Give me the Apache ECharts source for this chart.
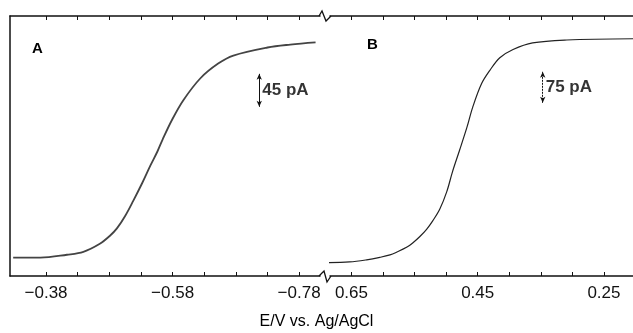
<!DOCTYPE html>
<html>
<head>
<meta charset="utf-8">
<script src="https://cdn.jsdelivr.net/npm/echarts@6/dist/echarts.min.js"></script>
<style>
  html, body { margin: 0; padding: 0; background: #fff; }
  #chart { width: 633px; height: 333px; }
</style>
</head>
<body>
<div id="chart"></div>
<script>
// panel A: reduction wave (E in V, current in pA)
const potentialA = [-0.328, -0.371, -0.413, -0.439, -0.465, -0.481, -0.492, -0.505, -0.518, -0.532, -0.545,
  -0.556, -0.564, -0.579, -0.597, -0.624, -0.652, -0.676, -0.730, -0.766, -0.806];
const currentA = [25, 25, 29, 33, 44, 55, 65, 82, 103, 127, 151, 170, 186, 213, 240, 270, 290, 301, 312, 316, 319];

// panel B: oxidation wave
const potentialB = [0.699, 0.653, 0.626, 0.605, 0.589, 0.578, 0.562, 0.553, 0.542, 0.531, 0.521, 0.510,
  0.499, 0.490, 0.479, 0.467, 0.458, 0.444, 0.431, 0.415, 0.394, 0.363, 0.309, 0.204];
const currentB = [32, 34, 39, 45, 51, 58, 70, 80, 95, 113, 134, 162, 204, 252, 303, 360, 408, 465, 497, 528,
  548, 564, 571, 574];

const ticksA = [-0.38, -0.43, -0.48, -0.53, -0.58, -0.63, -0.68, -0.73, -0.78];
const labelsA = [-0.38, -0.58, -0.78];
const ticksB = [0.65, 0.60, 0.55, 0.50, 0.45, 0.40, 0.35, 0.30, 0.25];
const labelsB = [0.65, 0.45, 0.25];

// scale bars: [potential, bottom of bar in pA, size in pA]
const scaleBarA = [-0.717, 231, 45];
const scaleBarB = [0.347, 419, 75];

const ink = "#111";
const font = "'Liberation Sans', Arial, sans-serif";

const fmtV = (v) => (v < 0 ? "\u2212" : "") + Math.abs(v).toFixed(2);

const xAxisFor = (gridIndex, min, max, ticks, labels, position) => ({
  type: "value",
  gridIndex,
  position,
  min,
  max,
  inverse: true,
  axisLine: { show: true, onZero: false, lineStyle: { color: ink, width: 1.5 } },
  axisTick: { show: true, inside: true, length: 4, customValues: ticks, lineStyle: { color: ink, width: 1 } },
  axisLabel: {
    show: position === "bottom",
    customValues: labels,
    formatter: fmtV,
    color: ink,
    fontFamily: font,
    fontSize: 17,
    margin: 9,
  },
  splitLine: { show: false },
});

const toPairs = (xs, ys) => xs.map((x, i) => [x, ys[i]]);

const scaleBarSeries = (bar, xAxisIndex, yAxisIndex, dashed) => [
  {
    type: "line",
    xAxisIndex,
    yAxisIndex,
    data: [],
    markLine: {
      silent: true,
      symbol: ["arrow", "arrow"],
      symbolSize: [4, 6],
      label: { show: false },
      lineStyle: { color: ink, width: 1, type: dashed ? [2, 1] : "solid" },
      data: [[{ coord: [bar[0], bar[1]] }, { coord: [bar[0], bar[1] + bar[2]] }]],
    },
  },
  {
    type: "scatter",
    xAxisIndex,
    yAxisIndex,
    symbolSize: 0,
    silent: true,
    data: [[bar[0], bar[1] + bar[2] / 2]],
    label: {
      show: true,
      position: "right",
      distance: 3,
      formatter: bar[2] + " pA",
      color: "#000",
      fontFamily: font,
      fontWeight: "bold",
      fontSize: 17,
    },
  },
];

const chart = echarts.init(document.getElementById("chart"));

chart.setOption({
  animation: false,
  backgroundColor: "#fff",
  grid: [
    { left: 10, top: 16, width: 310, height: 260 },
    { left: 330, top: 16, width: 303, height: 260 },
  ],
  xAxis: [
    xAxisFor(0, -0.813, -0.323, ticksA, labelsA, "bottom"),
    xAxisFor(0, -0.813, -0.323, ticksA, labelsA, "top"),
    xAxisFor(1, 0.204, 0.684, ticksB, labelsB, "bottom"),
    xAxisFor(1, 0.204, 0.684, ticksB, labelsB, "top"),
  ],
  yAxis: [
    {
      type: "value",
      gridIndex: 0,
      min: 0,
      max: 355,
      axisLine: { show: true, lineStyle: { color: ink, width: 1.5 } },
      axisTick: { show: false },
      axisLabel: { show: false },
      splitLine: { show: false },
    },
    {
      type: "value",
      gridIndex: 1,
      min: 0,
      max: 629,
      axisLine: { show: false },
      axisTick: { show: false },
      axisLabel: { show: false },
      splitLine: { show: false },
    },
  ],
  series: [
    {
      type: "line",
      xAxisIndex: 0,
      yAxisIndex: 0,
      data: toPairs(potentialA, currentA),
      smooth: 0.35,
      showSymbol: false,
      clip: false,
      lineStyle: { color: "#444", width: 1.8 },
    },
    {
      type: "line",
      xAxisIndex: 2,
      yAxisIndex: 1,
      data: toPairs(potentialB, currentB),
      smooth: 0.35,
      showSymbol: false,
      clip: false,
      lineStyle: { color: "#222", width: 1.2 },
    },
    ...scaleBarSeries(scaleBarA, 0, 0, false),
    ...scaleBarSeries(scaleBarB, 2, 1, true),
  ],
  graphic: [
    // axis break marks
    {
      type: "polyline",
      shape: { points: [[319, 16], [322, 11], [326, 21], [331, 16]] },
      style: { stroke: ink, lineWidth: 1.3, fill: null },
    },
    {
      type: "polyline",
      shape: { points: [[319, 276], [324, 271], [327, 282], [331, 276]] },
      style: { stroke: ink, lineWidth: 1.3, fill: null },
    },
    {
      type: "text",
      left: 32,
      top: 41,
      style: { text: "A", fill: "#000", font: "bold 15px " + font },
    },
    {
      type: "text",
      left: 367,
      top: 37,
      style: { text: "B", fill: "#000", font: "bold 15px " + font },
    },
    {
      type: "text",
      left: "center",
      top: 314,
      style: { text: "E/V vs. Ag/AgCl", fill: "#000", font: "16px " + font },
    },
  ],
});
</script>
</body>
</html>
